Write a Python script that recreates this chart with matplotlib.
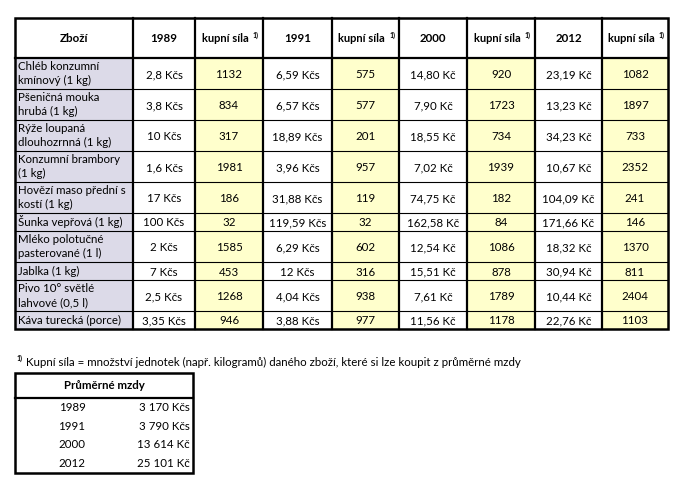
import matplotlib
matplotlib.use("Agg")
import matplotlib.pyplot as plt
from matplotlib.patches import Rectangle

plt.rcParams["font.family"] = ["Lato", "DejaVu Sans"]

# ---- data ----
headers = ["Zboží", "1989", "kupní síla", "1991", "kupní síla",
           "2000", "kupní síla", "2012", "kupní síla"]
goods = ["Chléb konzumní\nkmínový (1 kg)", "Pšeničná mouka\nhrubá (1 kg)",
         "Rýže loupaná\ndlouhozrnná (1 kg)", "Konzumní brambory\n(1 kg)",
         "Hovězí maso přední s\nkostí (1 kg)", "Šunka vepřová (1 kg)",
         "Mléko polotučné\npasterované (1 l)", "Jablka (1 kg)",
         "Pivo 10° světlé\nlahvové (0,5 l)", "Káva turecká (porce)"]
price_1989 = ["2,8 Kčs", "3,8 Kčs", "10 Kčs", "1,6 Kčs", "17 Kčs",
              "100 Kčs", "2 Kčs", "7 Kčs", "2,5 Kčs", "3,35 Kčs"]
power_1989 = [1132, 834, 317, 1981, 186, 32, 1585, 453, 1268, 946]
price_1991 = ["6,59 Kčs", "6,57 Kčs", "18,89 Kčs", "3,96 Kčs", "31,88 Kčs",
              "119,59 Kčs", "6,29 Kčs", "12 Kčs", "4,04 Kčs", "3,88 Kčs"]
power_1991 = [575, 577, 201, 957, 119, 32, 602, 316, 938, 977]
price_2000 = ["14,80 Kč", "7,90 Kč", "18,55 Kč", "7,02 Kč", "74,75 Kč",
              "162,58 Kč", "12,54 Kč", "15,51 Kč", "7,61 Kč", "11,56 Kč"]
power_2000 = [920, 1723, 734, 1939, 182, 84, 1086, 878, 1789, 1178]
price_2012 = ["23,19 Kč", "13,23 Kč", "34,23 Kč", "10,67 Kč", "104,09 Kč",
              "171,66 Kč", "18,32 Kč", "30,94 Kč", "10,44 Kč", "22,76 Kč"]
power_2012 = [1082, 1897, 733, 2352, 241, 146, 1370, 811, 2404, 1103]

footnote = "Kupní síla = množství jednotek (např. kilogramů) daného zboží, které si lze koupit z průměrné mzdy"
wage_title = "Průměrné mzdy"
wage_years = ["1989", "1991", "2000", "2012"]
wage_values = ["3 170 Kčs", "3 790 Kčs", "13 614 Kč", "25 101 Kč"]

# ---- layout (pixels) ----
W, H = 679, 497
col_x = [15, 133, 195, 263, 332, 399, 467, 535, 602, 668]
row_h = [31, 31, 31, 31, 31, 18, 31, 18, 31, 18]
top, head_bot = 18, 58
YELLOW = "#FFFFCC"
LAVENDER = "#DCDAE8"
FS = 8.3
SUP = 5

fig = plt.figure(figsize=(W / 100, H / 100), dpi=100)
ax = fig.add_axes([0, 0, 1, 1])
ax.set_xlim(0, W)
ax.set_ylim(H, 0)
ax.axis("off")

columns = [price_1989, power_1989, price_1991, power_1991,
           price_2000, power_2000, price_2012, power_2012]

row_y = [head_bot]
for h in row_h:
    row_y.append(row_y[-1] + h)
bottom = row_y[-1]

# fills
ax.add_patch(Rectangle((col_x[0], head_bot), col_x[1] - col_x[0], bottom - head_bot,
                       facecolor=LAVENDER, edgecolor="none"))
for c in (2, 4, 6, 8):
    ax.add_patch(Rectangle((col_x[c], head_bot), col_x[c + 1] - col_x[c], bottom - head_bot,
                           facecolor=YELLOW, edgecolor="none"))

# header text
hy = (top + head_bot) / 2
for i, h in enumerate(headers):
    cx = (col_x[i] + col_x[i + 1]) / 2
    if h == "kupní síla":
        ax.text(cx - 4, hy + 1, h, ha="center", va="center", fontsize=FS - 0.3, fontweight="bold")
        ax.text(cx + 27, hy - 3, "1)", ha="center", va="center", fontsize=SUP, fontweight="bold")
    else:
        ax.text(cx, hy, h, ha="center", va="center", fontsize=FS, fontweight="bold")

# body
for r, g in enumerate(goods):
    y0, y1 = row_y[r], row_y[r + 1]
    ym = (y0 + y1) / 2
    ax.text(col_x[0] + 3, ym, g, ha="left", va="center", fontsize=FS,
            linespacing=1.4)
    for c, vals in enumerate(columns):
        cx = (col_x[c + 1] + col_x[c + 2]) / 2
        ax.text(cx, ym + 1, str(vals[r]), ha="center", va="center", fontsize=FS)

# grid lines
for y in row_y[1:-1]:
    ax.plot([col_x[0], col_x[-1]], [y, y], color="black", lw=0.8)
ax.plot([col_x[0], col_x[-1]], [head_bot, head_bot], color="black", lw=1.6)
for x in col_x[1:-1]:
    ax.plot([x, x], [top, bottom], color="black", lw=1.6)
ax.add_patch(Rectangle((col_x[0], top), col_x[-1] - col_x[0], bottom - top,
                       facecolor="none", edgecolor="black", lw=1.8))

# footnote
ax.text(17, 358, "1)", ha="left", va="center", fontsize=SUP, fontweight="bold")
ax.text(26, 362, footnote, ha="left", va="center", fontsize=FS)

# wage table
wx0, wx1, wy0, wy1, wy2 = 15, 193, 373, 398, 473
ax.text((wx0 + wx1) / 2, (wy0 + wy1) / 2, wage_title, ha="center", va="center",
        fontsize=FS, fontweight="bold")
wrow = (wy2 - wy1) / len(wage_years)
for i, (yr, v) in enumerate(zip(wage_years, wage_values)):
    ym = wy1 + wrow * (i + 0.5)
    ax.text(72, ym, yr, ha="center", va="center", fontsize=FS)
    ax.text(190, ym, v, ha="right", va="center", fontsize=FS)
ax.plot([wx0, wx1], [wy1, wy1], color="black", lw=1.6)
ax.add_patch(Rectangle((wx0, wy0), wx1 - wx0, wy2 - wy0,
                       facecolor="none", edgecolor="black", lw=1.8))

fig.savefig("out.png", dpi=100)
